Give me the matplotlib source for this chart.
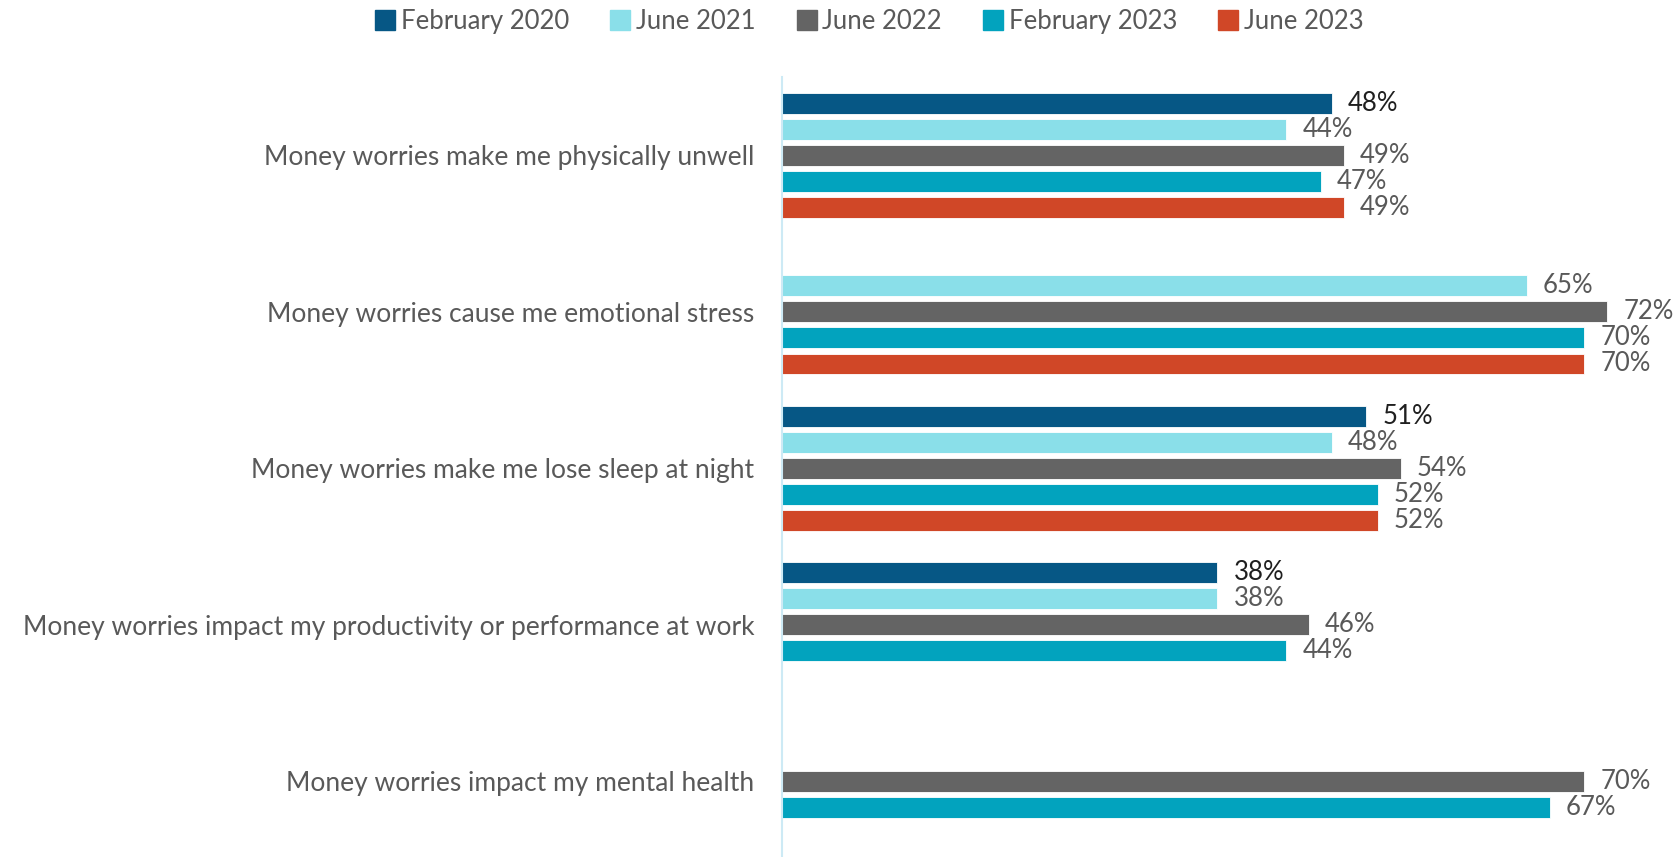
import numpy as np
import matplotlib
matplotlib.use("Agg")
import matplotlib.pyplot as plt
from matplotlib.lines import Line2D

plt.rcParams['font.family'] = ['Lato', 'DejaVu Sans']

categories = [
    "Money worries make me physically unwell",
    "Money worries cause me emotional stress",
    "Money worries make me lose sleep at night",
    "Money worries impact my productivity or performance at work",
    "Money worries impact my mental health",
]
series_names = ["February 2020", "June 2021", "June 2022", "February 2023", "June 2023"]
feb_2020 = [48, np.nan, 51, 38, np.nan]
jun_2021 = [44, 65, 48, 38, np.nan]
jun_2022 = [49, 72, 54, 46, 70]
feb_2023 = [47, 70, 52, 44, 67]
jun_2023 = [49, 70, 52, np.nan, np.nan]
series_values = [feb_2020, jun_2021, jun_2022, feb_2023, jun_2023]

colors = ["#065785", "#8ADFE9", "#646464", "#02A3BE", "#D04727"]
label_colors = ["#1f1f1f", "#595959", "#595959", "#595959", "#595959"]

W, H = 1678, 857
fig = plt.figure(figsize=(W / 100, H / 100), dpi=100)
ax = fig.add_axes([782 / W, 0.0, 1 - 782 / W, (H - 77) / H])

slots_per_group = 6
bar_h = 0.8
for s, (name, vals) in enumerate(zip(series_names, series_values)):
    for g, v in enumerate(vals):
        if np.isnan(v):
            continue
        y = g * slots_per_group + s
        ax.barh(y, v, height=bar_h, color=colors[s], edgecolor="white", linewidth=0.6)
        ax.text(v + 1.4, y, f"{v:.0f}%", va="center", ha="left",
                fontsize=18.5, color=label_colors[s])

ax.set_xlim(0, (W - 782) / 11.46)
ax.set_ylim(28.9, -1.0)
ax.set_yticks([g * slots_per_group + 2 for g in range(len(categories))])
ax.set_yticklabels(categories, fontsize=19, color="#595959")
ax.tick_params(axis="y", length=0, pad=20)
ax.set_xticks([])
for sp in ["top", "right", "bottom"]:
    ax.spines[sp].set_visible(False)
ax.spines["left"].set_color("#CDEAF5")
ax.spines["left"].set_linewidth(1.5)

handles = [Line2D([0], [0], marker="s", linestyle="none", markersize=14,
                  markerfacecolor=c, markeredgecolor=c) for c in colors]
fig.legend(handles, series_names, loc="upper center", bbox_to_anchor=(0.518, 1.016),
           ncol=5, frameon=False, labelcolor="#595959",
           prop={"size": 18.5},
           handlelength=0.8, handletextpad=0.2, columnspacing=1.6)

fig.savefig("out.png", dpi=100)
